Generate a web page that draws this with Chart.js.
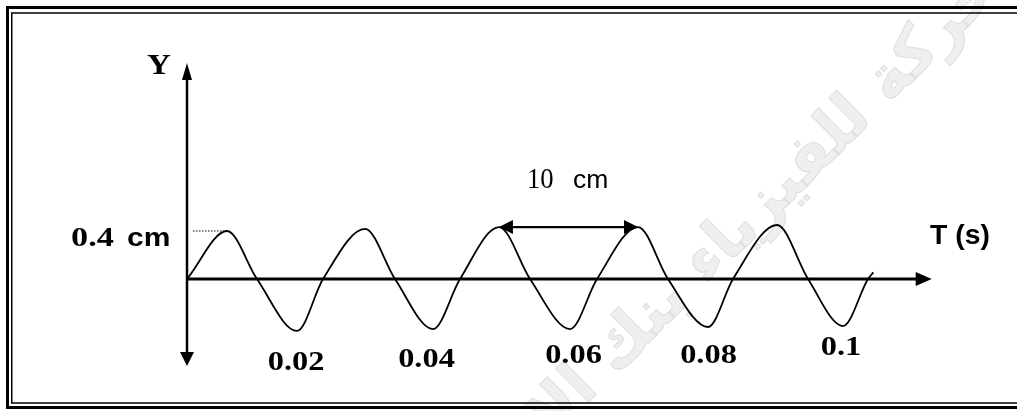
<!DOCTYPE html>
<html>
<head>
<meta charset="utf-8">
<script src="https://cdn.jsdelivr.net/npm/chart.js@4.4.1/dist/chart.umd.min.js"></script>
<style>
  html, body { margin: 0; padding: 0; background: #ffffff; }
  #wrap { width: 1017px; height: 411px; }
</style>
</head>
<body>
<div id="wrap"><canvas id="c" width="1017" height="411"></canvas></div>
<script>
// ---- data (time in s, displacement in cm) ----
const waveT = [0, 0.00582, 0.01019, 0.01601, 0.0198, 0.02591, 0.03028, 0.03581, 0.03974,
               0.04541, 0.04993, 0.05575, 0.05968, 0.06565, 0.07001, 0.07584, 0.07948,
               0.08588, 0.0904, 0.09549, 0.09913, 0.0999];
const waveY = [0, 0.40, 0, -0.433, 0, 0.417, 0, -0.417, 0,
               0.433, 0, -0.417, 0, 0.433, 0, -0.40, 0,
               0.45, 0, -0.392, 0, 0.055];
const tickLabels = ['0.02', '0.04', '0.06', '0.08', '0.1'];
const tickAt = [0.01587, 0.03486, 0.05626, 0.07591, 0.0952];     // where each label sits on the time axis
const amplitudeLabel = '0.4';
const amplitudeValue = 0.4;
const wavelengthLabel = '10';
const wavelengthFromIdx = 9;   // peak indices spanned by the "10 cm" arrow
const wavelengthToIdx = 13;
const axisTitleX = 'T (s)';
const axisTitleY = 'Y';
const watermarkText = 'حركة للفيزياء بنك الإ';

// ---- layout/style (not data) ----
const xAxisEnd = 0.1084, yAxisTop = 1.8, yAxisBottom = -0.725;
const tickBaseY = [-0.758, -0.733, -0.70, -0.70, -0.633];

const points = waveT.map((t, i) => ({ x: t, y: waveY[i] }));

function arrowHead(ctx, tx, ty, dx, dy, len, hw) {
  const bx = tx - dx * len, by = ty - dy * len;
  const px = -dy, py = dx;
  ctx.beginPath();
  ctx.moveTo(tx, ty);
  ctx.lineTo(bx + px * hw, by + py * hw);
  ctx.lineTo(bx - px * hw, by - py * hw);
  ctx.closePath();
  ctx.fill();
}
function text(ctx, str, x, y, font, sx, align) {
  ctx.save();
  ctx.font = font;
  ctx.textBaseline = 'alphabetic';
  ctx.textAlign = 'left';
  const w = ctx.measureText(str).width * sx;
  let x0 = x;
  if (align === 'center') x0 = x - w / 2;
  ctx.translate(x0, y);
  ctx.scale(sx, 1);
  ctx.fillText(str, 0, 0);
  ctx.restore();
  return w;
}

const decor = {
  id: 'decor',
  beforeDraw(chart) {
    const ctx = chart.ctx;
    ctx.save();
    ctx.fillStyle = '#ffffff';
    ctx.fillRect(0, 0, chart.width, chart.height);
    // watermark
    ctx.translate(765, 205);
    ctx.rotate(-0.78);
    ctx.font = 'bold 62px "DejaVu Sans"';
    ctx.textAlign = 'center';
    ctx.textBaseline = 'middle';
    ctx.direction = 'rtl';
    ctx.fillStyle = '#efefef';
    ctx.fillText(watermarkText, 0, 0);
    ctx.strokeStyle = '#dedede';
    ctx.lineWidth = 1;
    ctx.strokeText(watermarkText, 0, 0);
    ctx.restore();
    // double frame
    ctx.save();
    ctx.strokeStyle = '#000';
    ctx.lineWidth = 3;
    ctx.strokeRect(7.5, 7.5, 1100, 400);
    ctx.lineWidth = 1.5;
    ctx.strokeRect(11.75, 13, 1100, 390);
    ctx.restore();
  },
  beforeDatasetsDraw(chart) {
    const ctx = chart.ctx, xs = chart.scales.x, ys = chart.scales.y;
    const x0 = xs.getPixelForValue(0), y0 = ys.getPixelForValue(0);
    ctx.save();
    ctx.strokeStyle = '#000';
    ctx.fillStyle = '#000';
    // time axis
    const xe = xs.getPixelForValue(xAxisEnd);
    ctx.lineWidth = 3;
    ctx.beginPath(); ctx.moveTo(x0, y0); ctx.lineTo(xe - 10, y0); ctx.stroke();
    arrowHead(ctx, xe, y0, 1, 0, 16, 7);
    // Y axis
    const yt = ys.getPixelForValue(yAxisTop), yb = ys.getPixelForValue(yAxisBottom);
    ctx.lineWidth = 2.5;
    ctx.beginPath(); ctx.moveTo(x0, yb - 8); ctx.lineTo(x0, yt + 8); ctx.stroke();
    arrowHead(ctx, x0, yt, 0, -1, 17, 5);
    arrowHead(ctx, x0, yb, 0, 1, 14, 7);
    // dotted amplitude guide
    ctx.lineWidth = 1;
    ctx.setLineDash([1.5, 1.5]);
    ctx.beginPath();
    ctx.moveTo(xs.getPixelForValue(0.00087), ys.getPixelForValue(amplitudeValue));
    ctx.lineTo(xs.getPixelForValue(waveT[1]), ys.getPixelForValue(amplitudeValue));
    ctx.stroke();
    ctx.restore();
  },
  afterDraw(chart) {
    const ctx = chart.ctx, xs = chart.scales.x, ys = chart.scales.y;
    ctx.save();
    ctx.fillStyle = '#000';
    ctx.strokeStyle = '#000';
    // wavelength double arrow
    const ax1 = xs.getPixelForValue(waveT[wavelengthFromIdx]);
    const ax2 = xs.getPixelForValue(waveT[wavelengthToIdx]);
    const ay = ys.getPixelForValue(waveY[wavelengthFromIdx]);
    ctx.lineWidth = 2.2;
    ctx.beginPath(); ctx.moveTo(ax1 + 8, ay); ctx.lineTo(ax2 - 8, ay); ctx.stroke();
    arrowHead(ctx, ax1, ay, -1, 0, 14, 7);
    arrowHead(ctx, ax2, ay, 1, 0, 14, 7);
    // "10 cm"
    text(ctx, wavelengthLabel, 527, 188, '29px "Liberation Serif"', 0.92);
    text(ctx, 'cm', 573, 188, '26px "Liberation Sans"', 1.02);
    // axis titles
    text(ctx, axisTitleY, 147, 74, 'bold 30px "Liberation Serif"', 1.1);
    text(ctx, axisTitleX, 930, 244, 'bold 27px "Liberation Sans"', 1.05);
    // amplitude label
    text(ctx, amplitudeLabel, 71, 246, 'bold 27px "Liberation Serif"', 1.27);
    text(ctx, 'cm', 127, 246, 'bold 25px "Liberation Sans"', 1.2);
    // tick labels
    tickLabels.forEach((lab, i) => {
      text(ctx, lab, xs.getPixelForValue(tickAt[i]), ys.getPixelForValue(tickBaseY[i]),
           'bold 27px "Liberation Serif"', 1.2, 'center');
    });
    ctx.restore();
  }
};

new Chart(document.getElementById('c'), {
  type: 'line',
  data: {
    datasets: [{
      data: points,
      borderColor: '#000',
      borderWidth: 1.8,
      pointRadius: 0,
      fill: false,
      cubicInterpolationMode: 'monotone',
      clip: false
    }]
  },
  options: {
    responsive: false,
    animation: false,
    events: [],
    layout: { padding: { left: 187, right: 143, top: 63, bottom: 42 } },
    plugins: { legend: { display: false }, tooltip: { enabled: false } },
    scales: {
      x: { type: 'linear', min: 0, max: 0.1, display: false },
      y: { type: 'linear', min: -0.75, max: 1.8, display: false }
    }
  },
  plugins: [decor]
});
</script>
</body>
</html>
